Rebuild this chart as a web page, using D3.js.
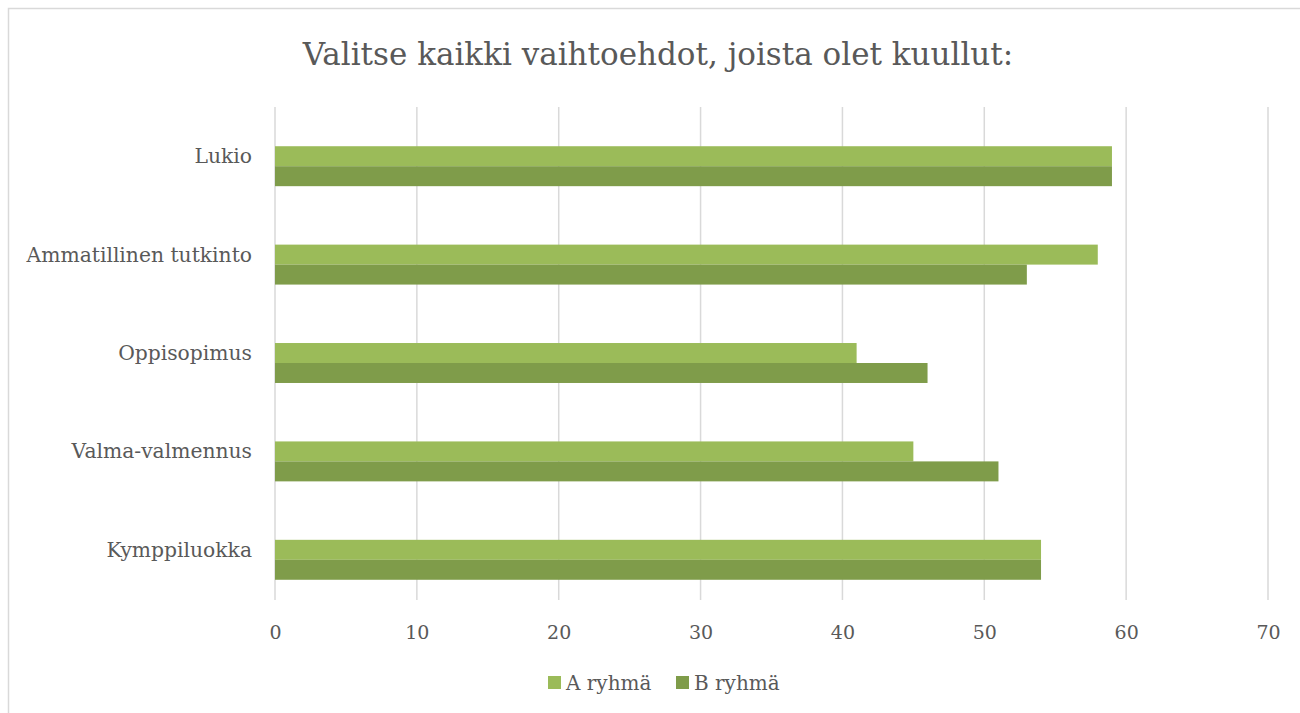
<!DOCTYPE html>
<html>
<head>
<meta charset="utf-8">
<script src="https://cdn.jsdelivr.net/npm/d3@7"></script>
<style>
  body { margin: 0; background: #fff; }
  text { font-family: "DejaVu Serif", "Liberation Serif", serif; fill: #595959; }
</style>
</head>
<body>
<script>
var categories = ["Lukio", "Ammatillinen tutkinto", "Oppisopimus", "Valma-valmennus", "Kymppiluokka"];
var seriesNames = ["A ryhmä", "B ryhmä"];
var seriesA = [59, 58, 41, 45, 54];
var seriesB = [59, 53, 46, 51, 54];
var xTicks = [0, 10, 20, 30, 40, 50, 60, 70];
var colors = ["#9bbb59", "#7f9c4a"];

var width = 1300, height = 713;
var margin = { top: 107, right: 32, bottom: 113, left: 275 };

var svg = d3.select("body").append("svg")
    .attr("width", width)
    .attr("height", height);

// outer frame
svg.append("rect")
    .attr("x", 8.5).attr("y", 8.5)
    .attr("width", 1310).attr("height", 720)
    .style("fill", "none")
    .style("stroke", "#d9d9d9")
    .style("stroke-width", 1.5);

var xScale = d3.scaleLinear()
    .domain([0, 70])
    .range([margin.left, width - margin.right]);

// category bands sit a little lower than the gridlines
var yScale = d3.scaleBand()
    .domain(categories)
    .range([margin.top + 10, height - margin.bottom + 9])
    .paddingInner(0.594)
    .paddingOuter(0.297);

var inner = d3.scaleBand()
    .domain(seriesNames)
    .range([0, yScale.bandwidth()]);

// gridlines
svg.append("g")
    .selectAll("line")
    .data(xTicks)
    .enter().append("line")
    .attr("x1", function(d){ return xScale(d); })
    .attr("x2", function(d){ return xScale(d); })
    .attr("y1", margin.top)
    .attr("y2", height - margin.bottom)
    .style("stroke", "#d9d9d9")
    .style("stroke-width", 1.5);

// bars
var rows = categories.map(function(c, i){
    return [{ cat: c, s: seriesNames[0], v: seriesA[i] }, { cat: c, s: seriesNames[1], v: seriesB[i] }];
});

svg.append("g")
    .selectAll("g")
    .data(rows)
    .enter().append("g")
    .attr("transform", function(d){ return "translate(0," + yScale(d[0].cat) + ")"; })
    .selectAll("rect")
    .data(function(d){ return d; })
    .enter().append("rect")
    .attr("x", xScale(0))
    .attr("y", function(d){ return inner(d.s); })
    .attr("width", function(d){ return xScale(d.v) - xScale(0); })
    .attr("height", inner.bandwidth())
    .style("fill", function(d, i){ return colors[i]; });

// x axis labels
var xAxis = d3.axisBottom(xScale)
    .tickValues(xTicks)
    .tickSize(0)
    .tickPadding(26);

var xg = svg.append("g")
    .attr("transform", "translate(0," + (height - margin.bottom) + ")")
    .call(xAxis);
xg.select(".domain").remove();
xg.selectAll("text")
    .style("font-size", "19px")
    .style("font-family", "'DejaVu Serif', serif")
    .attr("fill", "#595959");

// y axis labels
var yAxis = d3.axisLeft(yScale)
    .tickSize(0)
    .tickPadding(23);

var yg = svg.append("g")
    .attr("transform", "translate(" + margin.left + ",0)")
    .call(yAxis);
yg.select(".domain").remove();
yg.selectAll("text")
    .attr("dy", "-0.15em")
    .style("font-size", "20.3px")
    .style("font-family", "'DejaVu Serif', serif")
    .attr("fill", "#595959");

// title
svg.append("text")
    .attr("x", 658)
    .attr("y", 65)
    .attr("text-anchor", "middle")
    .style("font-size", "31px")
    .text("Valitse kaikki vaihtoehdot, joista olet kuullut:");

// legend
var legend = svg.append("g")
    .selectAll("g")
    .data(seriesNames)
    .enter().append("g")
    .attr("transform", function(d, i){ return "translate(" + (548 + i * 128) + ",676)"; });

legend.append("rect")
    .attr("width", 13).attr("height", 13)
    .style("fill", function(d, i){ return colors[i]; });

legend.append("text")
    .attr("x", 18)
    .attr("y", 14)
    .style("font-size", "20px")
    .text(function(d){ return d; });
</script>
</body>
</html>
